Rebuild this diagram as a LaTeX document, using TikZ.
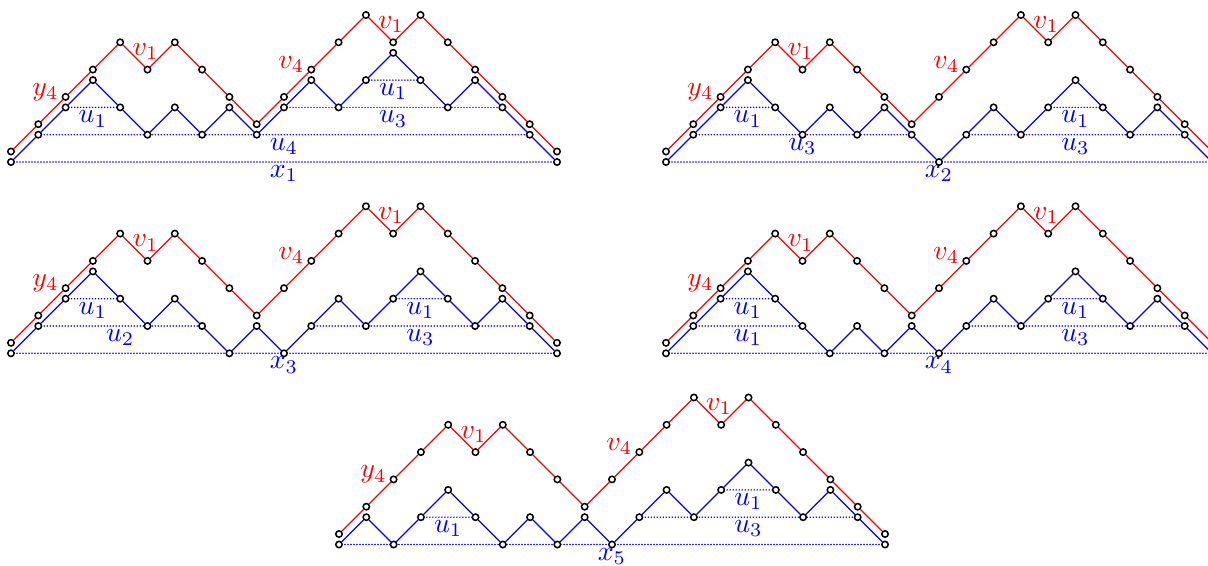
\documentclass[tikz,border=0pt]{standalone}
\usetikzlibrary{backgrounds}
\newcommand\dyckpanel[4]{%
  \foreach \h [count=\i from 0] in {0,1,2,3,4,3,4,3,2,1,2,3,4,5,4,5,4,3,2,1,0}
    \node[dot] (#1r\i) at ({#2+\i*27.3},{#3-10.5-\h*27.3}) {};
  \foreach \h [count=\i from 0] in {#4}
    \node[dot] (#1b\i) at ({#2+\i*27.3},{#3-\h*27.3}) {};
  \begin{pgfonlayer}{background}
    \foreach \i in {0,...,19}{%
      \pgfmathtruncatemacro\j{\i+1}%
      \draw[redpath] (#1r\i) -- (#1r\j);
      \draw[bluepath] (#1b\i) -- (#1b\j);
    }
  \end{pgfonlayer}
  \path (#1r2.center) ++(-6.5,-1.5) node[rlab,anchor=base east] (#1ly) {$y_4$};
  \path (#1r11.center) ++(-6.5,-1.5) node[rlab,anchor=base east] (#1lv) {$v_4$};
  \path (#1r5.center) ++(-2,-14) node[rlab,anchor=base] (#1lva) {$v_1$};
  \path (#1r14.center) ++(-2,-14) node[rlab,anchor=base] (#1lvb) {$v_1$};
}
\newcommand\lvl[4]{%
  \begin{pgfonlayer}{background}
    \draw[level] (#1b#2.center) -- (#1b#3.center) node[midway,blab] (#1l#2x#3) {$#4$};
  \end{pgfonlayer}}
\begin{document}
\begin{tikzpicture}[x=0.36pt,y=-0.36pt,
  dot/.style={circle,draw=black,fill=white,line width=0.55pt,inner sep=0pt,minimum size=2.3pt},
  redpath/.style={draw=red,line width=0.45pt},
  bluepath/.style={draw=blue,line width=0.45pt},
  level/.style={draw=blue,line width=0.6pt,line cap=round,dash pattern=on 0pt off 1.08pt},
  rlab/.style={text=red,inner sep=0pt},
  blab/.style={text=blue,inner sep=1pt,anchor=north}]
\useasboundingbox (0,0) rectangle (1208,566);
% panel 1
\dyckpanel{A}{11}{162}{0,1,2,3,2,1,2,1,2,1,2,3,2,3,4,3,2,3,2,1,0}
\lvl{A}{0}{20}{x_1}
\lvl{A}{1}{19}{u_4}
\lvl{A}{2}{4}{u_1}
\lvl{A}{10}{18}{u_3}
\lvl{A}{13}{15}{u_1}
% panel 2
\dyckpanel{B}{666}{162}{0,1,2,3,2,1,2,1,2,1,0,1,2,1,2,3,2,1,2,1,0}
\lvl{B}{0}{20}{x_2}
\lvl{B}{1}{9}{u_3}
\lvl{B}{2}{4}{u_1}
\lvl{B}{11}{19}{u_3}
\lvl{B}{14}{16}{u_1}
% panel 3
\dyckpanel{C}{11}{353.3}{0,1,2,3,2,1,2,1,0,1,0,1,2,1,2,3,2,1,2,1,0}
\lvl{C}{0}{20}{x_3}
\lvl{C}{1}{7}{u_2}
\lvl{C}{2}{4}{u_1}
\lvl{C}{11}{19}{u_3}
\lvl{C}{14}{16}{u_1}
% panel 4
\dyckpanel{D}{666}{353.3}{0,1,2,3,2,1,0,1,0,1,0,1,2,1,2,3,2,1,2,1,0}
\lvl{D}{0}{20}{x_4}
\lvl{D}{1}{5}{u_1}
\lvl{D}{2}{4}{u_1}
\lvl{D}{11}{19}{u_3}
\lvl{D}{14}{16}{u_1}
% panel 5
\dyckpanel{E}{339}{544.5}{0,1,0,1,2,1,0,1,0,1,0,1,2,1,2,3,2,1,2,1,0}
\lvl{E}{0}{20}{x_5}
\lvl{E}{3}{5}{u_1}
\lvl{E}{11}{19}{u_3}
\lvl{E}{14}{16}{u_1}
\end{tikzpicture}
\end{document}
